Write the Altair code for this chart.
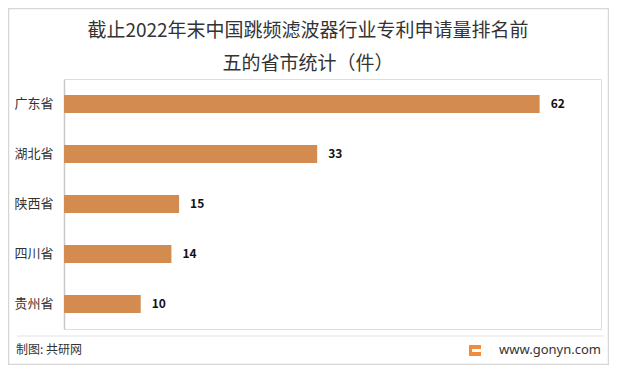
import altair as alt
import pandas as pd

provinces = ["广东省", "湖北省", "陕西省", "四川省", "贵州省"]
counts = [62, 33, 15, 14, 10]
title_lines = ["截止2022年末中国跳频滤波器行业专利申请量排名前", "五的省市统计（件）"]
source_text = "制图: 共研网"
site_text = "www.gonyn.com"

df = pd.DataFrame({"省份": provinces, "数量": counts})

FONT = "Noto Sans CJK SC"
W, H = 537, 250
PL, PT = 56, 71

base = alt.Chart(df)

bars = base.mark_bar(color="#D38B50", size=18).encode(
    y=alt.Y("省份:N", sort=provinces,
            axis=alt.Axis(title=None, ticks=False, labelPadding=11, labelFontSize=13,
                          labelColor="#333333", labelFont=FONT, domainColor="#C8C8C8",
                          domainWidth=1.5)),
    x=alt.X("数量:Q", scale=alt.Scale(domain=[0, 70], nice=False), axis=None),
)

labels = base.mark_text(align="left", dx=11, fontSize=12, fontWeight="bold",
                        color="#111111", font=FONT).encode(
    y=alt.Y("省份:N", sort=provinces),
    x="数量:Q",
    text="数量:Q",
)

one = alt.Data(values=[{"a": 1}])

border = alt.Chart(one).mark_rect(fill=None, stroke="#D6D6D6", strokeWidth=1.5).encode(
    x=alt.value(-PL + 0.5), x2=alt.value(W + 8 - 0.5),
    y=alt.value(-PT + 0.5), y2=alt.value(H + 36 - 0.5),
)

sep = alt.Chart(one).mark_rule(color="#E3E3E3", strokeWidth=1).encode(
    x=alt.value(-PL + 9), x2=alt.value(W + 3), y=alt.value(257),
)

src = alt.Chart(one).mark_text(text=source_text, align="left", baseline="middle",
                                 fontSize=12, color="#333333", font=FONT).encode(
    x=alt.value(-PL + 8), y=alt.value(271),
)

site = alt.Chart(one).mark_text(text=site_text, align="right", baseline="middle",
                                  fontSize=13, color="#333333", font="Noto Sans").encode(
    x=alt.value(W), y=alt.value(271),
)

icon = alt.Chart(one).mark_rect(color="#F28C3A", cornerRadius=1).encode(
    x=alt.value(405), x2=alt.value(417),
    y=alt.value(266), y2=alt.value(277),
)
icon_g = alt.Chart(one).mark_rect(color="#FFFFFF").encode(
    x=alt.value(408), x2=alt.value(417),
    y=alt.value(270), y2=alt.value(273),
)

t1 = alt.Chart(one).mark_text(text=title_lines[0], align="center", baseline="middle",
                                fontSize=19, color="#333333", font=FONT).encode(
    x=alt.value(300 - PL), y=alt.value(23 - PT),
)
t2 = alt.Chart(one).mark_text(text=title_lines[1], align="center", baseline="middle",
                                fontSize=19, color="#333333", font=FONT).encode(
    x=alt.value(300 - PL), y=alt.value(56 - PT),
)

chart = alt.layer(border, sep, bars, labels, src, site, icon, icon_g, t1, t2).properties(
    width=W, height=H,
    autosize=alt.AutoSizeParams(type="none"),
    padding={"left": PL, "top": PT, "right": 8, "bottom": 36},
).configure_view(stroke=None).configure(background="white")

chart.save("out.html", embed_options={"renderer": "svg", "actions": False})
